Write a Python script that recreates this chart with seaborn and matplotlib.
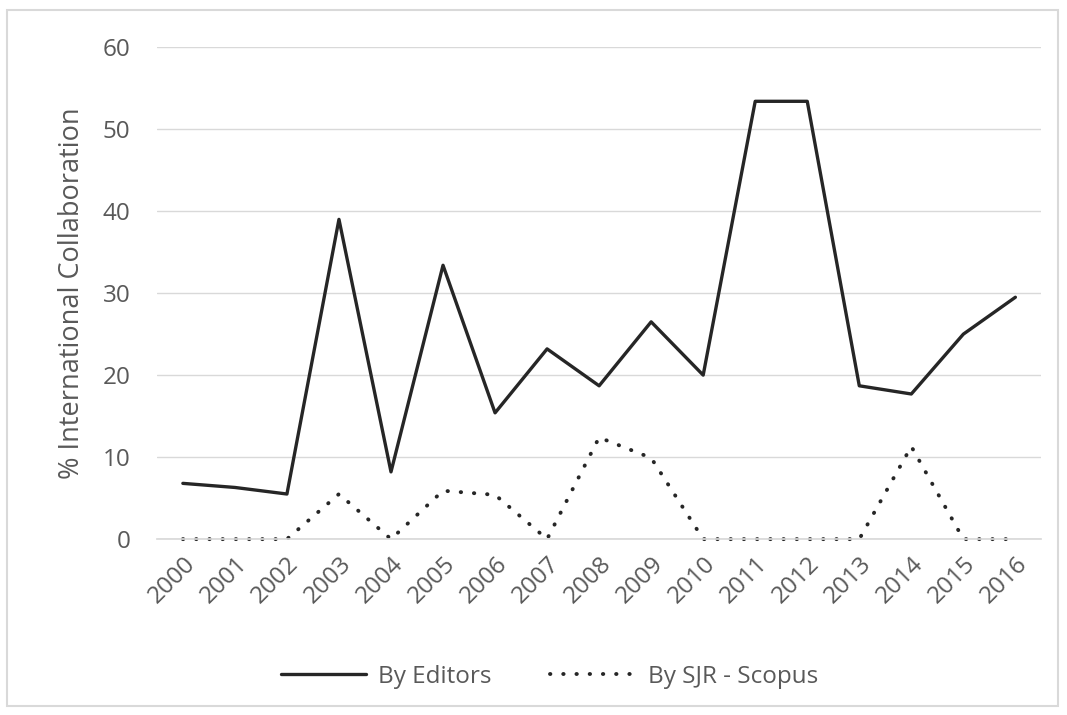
"""
International collaboration share per year, editors vs SJR-Scopus.
"""

import pandas as pd
import matplotlib.pyplot as plt
import seaborn as sns
from matplotlib.patches import Rectangle

# Data
YEARS = list(range(2000, 2017))
BY_EDITORS = [6.8, 6.3, 5.5, 39.0, 8.2, 33.4, 15.4, 23.2, 18.7, 26.5,
              20.0, 53.4, 53.4, 18.7, 17.7, 25.0, 29.5]
BY_SJR = [0, 0, 0, 5.5, 0, 5.9, 5.4, 0, 12.4, 9.9,
          0, 0, 0, 0, 11.3, 0, 0]
SERIES = ['By Editors', 'By SJR - Scopus']

TEXT_COLOR = '#595959'
LINE_COLOR = '#262626'


def main():
    sns.set_theme(style='white')
    plt.rcParams['font.family'] = ['Open Sans', 'DejaVu Sans']

    df = pd.DataFrame({'year': YEARS, SERIES[0]: BY_EDITORS, SERIES[1]: BY_SJR})

    fig = plt.figure(figsize=(10.67, 7.15), dpi=100)
    ax = fig.add_axes([0.147, 0.246, 0.829, 0.688])

    sns.lineplot(data=df, x='year', y=SERIES[0], ax=ax, color=LINE_COLOR,
                 linewidth=2.4, label=SERIES[0])
    sns.lineplot(data=df, x='year', y=SERIES[1], ax=ax, color=LINE_COLOR,
                 linewidth=2.8, label=SERIES[1], dashes=False)
    dotted = ax.lines[1]
    dotted.set_linestyle((0, (0.1, 3.3)))
    dotted.set_dash_capstyle('round')
    for line in ax.lines:
        line.set_clip_on(False)

    ax.set_xlim(YEARS[0] - 0.5, YEARS[-1] + 0.5)
    ax.set_ylim(0, 60)
    ax.set_yticks(range(0, 61, 10))
    ax.set_xticks(YEARS)
    ax.set_xticklabels([str(y) for y in YEARS], rotation=45, ha='right',
                       rotation_mode='anchor')
    ax.tick_params(axis='both', colors=TEXT_COLOR, labelsize=17.5, length=0)
    ax.tick_params(axis='x', pad=9)
    ax.tick_params(axis='y', pad=19)

    ax.grid(axis='y', color='#d9d9d9', linewidth=1)
    ax.set_axisbelow(True)
    for side in ['top', 'right', 'left']:
        ax.spines[side].set_visible(False)
    ax.spines['bottom'].set_color('#d9d9d9')

    ax.set_xlabel('')
    ax.set_ylabel('% International Collaboration', color=TEXT_COLOR, fontsize=19.5, labelpad=12)

    # legend centred on the chart area, not the plot area
    leg = ax.legend(loc='center', bbox_to_anchor=(0.515, 1 - 677 / 715),
                    bbox_transform=fig.transFigure, ncol=2, frameon=False,
                    fontsize=17.5, handlelength=3.5, columnspacing=2.4, handletextpad=0.5)
    for text in leg.get_texts():
        text.set_color(TEXT_COLOR)

    # outer chart border
    fig.patches.append(Rectangle((7 / 1067, 1 - 706 / 715), 1051 / 1067, 696 / 715,
                                 transform=fig.transFigure, fill=False,
                                 edgecolor='#d9d9d9', linewidth=1.5))

    fig.savefig('out.png', dpi=100, facecolor='white')
    plt.close(fig)


if __name__ == "__main__":
    main()
